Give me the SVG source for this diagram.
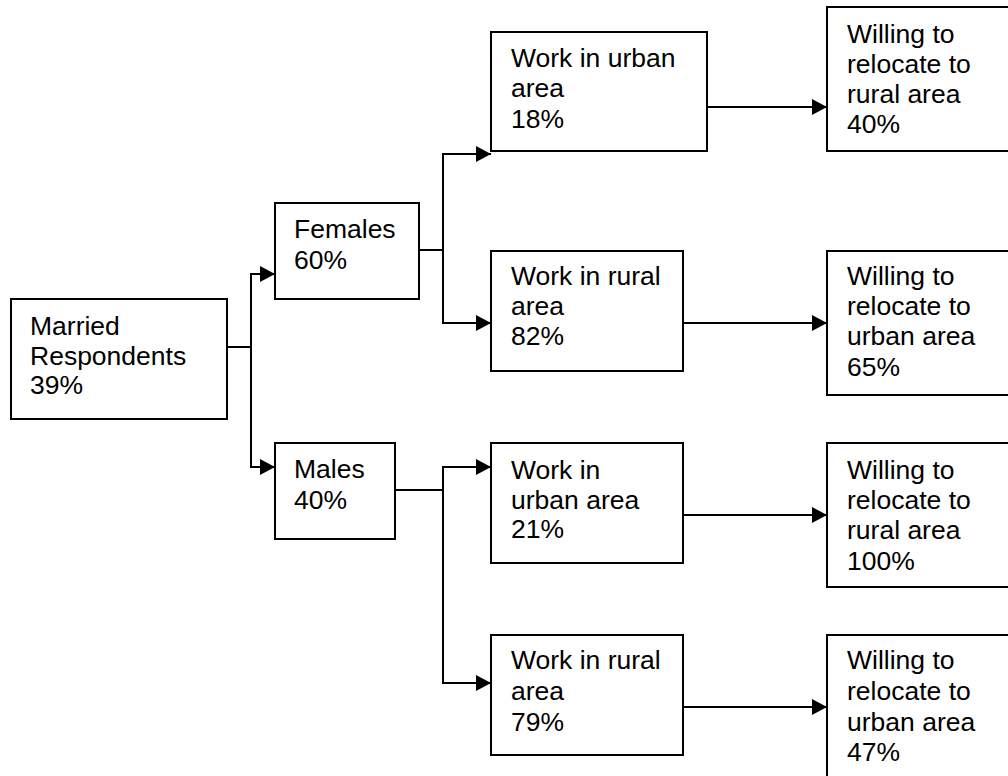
<svg xmlns="http://www.w3.org/2000/svg" width="1008" height="776" viewBox="0 0 1008 776">
<defs>
<style>
.box{fill:#fff;stroke:#000;stroke-width:2}
.ln{fill:none;stroke:#000;stroke-width:2}
.arr{marker-end:url(#ah)}
text{font-family:"Liberation Sans",Arial,sans-serif;font-size:26.5px;fill:#000}
</style>
<marker id="ah" markerUnits="userSpaceOnUse" markerWidth="15" markerHeight="16" refX="15" refY="8" orient="auto" viewBox="0 0 15 16">
<path d="M0,0 L15,8 L0,16 Z" fill="#000"/>
</marker>
</defs>
<rect width="1008" height="776" fill="#fff"/>
<g id="connectors">
<path class="ln" d="M227,347 H251"/>
<path class="ln arr" d="M251,347 V274 H275"/>
<path class="ln arr" d="M251,347 V467 H275"/>
<path class="ln" d="M419,250 H443"/>
<path class="ln arr" d="M443,250 V154 H491"/>
<path class="ln arr" d="M443,250 V323 H491"/>
<path class="ln" d="M395,490 H443"/>
<path class="ln arr" d="M443,490 V467 H491"/>
<path class="ln arr" d="M443,490 V683 H491"/>
<path class="ln arr" d="M707,107 H827"/>
<path class="ln arr" d="M683,323 H827"/>
<path class="ln arr" d="M683,515 H827"/>
<path class="ln arr" d="M683,707 H827"/>
</g>
<g id="married">
<rect class="box" x="11" y="299" width="216" height="120"/>
<text x="30" y="335">Married</text>
<text x="30" y="365">Respondents</text>
<text x="30" y="394">39%</text>
</g>
<g id="females">
<rect class="box" x="275" y="203" width="144" height="96"/>
<text x="294" y="238">Females</text>
<text x="294" y="269">60%</text>
</g>
<g id="males">
<rect class="box" x="275" y="443" width="120" height="96"/>
<text x="294" y="478">Males</text>
<text x="294" y="509">40%</text>
</g>
<g id="f-urban">
<rect class="box" x="491" y="32" width="216" height="119"/>
<text x="511" y="67">Work in urban</text>
<text x="511" y="97">area</text>
<text x="511" y="128">18%</text>
</g>
<g id="f-rural">
<rect class="box" x="491" y="251" width="192" height="120"/>
<text x="511" y="285">Work in rural</text>
<text x="511" y="315">area</text>
<text x="511" y="345">82%</text>
</g>
<g id="m-urban">
<rect class="box" x="491" y="443" width="192" height="120"/>
<text x="511" y="479">Work in</text>
<text x="511" y="509">urban area</text>
<text x="511" y="538">21%</text>
</g>
<g id="m-rural">
<rect class="box" x="491" y="635" width="192" height="120"/>
<text x="511" y="669">Work in rural</text>
<text x="511" y="700">area</text>
<text x="511" y="731">79%</text>
</g>
<g id="f-urban-willing">
<rect class="box" x="827" y="7" width="200" height="144"/>
<text x="847" y="43">Willing to</text>
<text x="847" y="73">relocate to</text>
<text x="847" y="103">rural area</text>
<text x="847" y="133">40%</text>
</g>
<g id="f-rural-willing">
<rect class="box" x="827" y="251" width="200" height="144"/>
<text x="847" y="285">Willing to</text>
<text x="847" y="315">relocate to</text>
<text x="847" y="345">urban area</text>
<text x="847" y="376">65%</text>
</g>
<g id="m-urban-willing">
<rect class="box" x="827" y="443" width="200" height="144"/>
<text x="847" y="479">Willing to</text>
<text x="847" y="509">relocate to</text>
<text x="847" y="539">rural area</text>
<text x="847" y="570">100%</text>
</g>
<g id="m-rural-willing">
<rect class="box" x="827" y="635" width="200" height="160"/>
<text x="847" y="669">Willing to</text>
<text x="847" y="700">relocate to</text>
<text x="847" y="731">urban area</text>
<text x="847" y="761">47%</text>
</g>
</svg>
